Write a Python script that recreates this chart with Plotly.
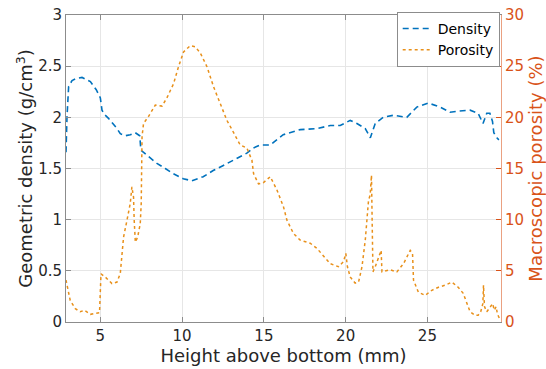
import plotly.graph_objects as go

# Density series (height in mm, g/cm^3)
dens_x = [2.90, 2.96, 3.06, 3.27, 3.53, 3.88, 4.14, 4.39, 4.75, 5.00, 5.10, 5.24, 5.50, 6.02, 6.22,
          6.52, 6.83, 7.13, 7.41, 7.48, 7.85, 8.46, 8.97, 9.46, 10.07, 10.60, 11.29, 11.90, 12.52,
          13.13, 13.96, 14.35, 14.78, 15.39, 16.18, 17.22, 18.24, 19.06, 19.67, 20.28, 20.69,
          21.20, 21.38, 21.51, 21.81, 22.30, 22.91, 23.74, 24.35, 25.05, 25.78, 26.39, 26.88,
          27.61, 28.10, 28.40, 28.63, 28.82, 28.98, 29.06, 29.25, 29.37]
dens_y = [1.66, 2.00, 2.30, 2.36, 2.38, 2.39, 2.37, 2.35, 2.27, 2.19, 2.07, 2.03, 1.99, 1.89, 1.84,
          1.82, 1.83, 1.85, 1.82, 1.68, 1.63, 1.55, 1.50, 1.45, 1.40, 1.38, 1.42, 1.48, 1.53,
          1.58, 1.65, 1.70, 1.73, 1.73, 1.83, 1.88, 1.89, 1.92, 1.92, 1.97, 1.94,
          1.89, 1.83, 1.80, 1.94, 2.00, 2.02, 2.00, 2.10, 2.14, 2.10, 2.05, 2.06,
          2.07, 2.04, 1.94, 2.04, 2.04, 1.96, 1.85, 1.80, 1.78]

# Porosity series (height in mm, %)
por_x = [2.90, 3.16, 3.47, 3.77, 4.02, 4.39, 4.69, 4.95, 5.04, 5.30, 5.71, 6.02, 6.22, 6.42, 6.63,
         6.83, 6.93, 7.03, 7.07, 7.14, 7.28, 7.44, 7.50, 7.55, 7.64, 7.95, 8.36, 8.77, 9.07, 9.48,
         9.78, 10.09, 10.50, 10.80, 11.11, 11.52, 11.92, 12.33, 12.74, 13.05, 13.55, 13.96, 14.27,
         14.37, 14.67, 14.96, 15.39, 15.80, 16.20, 16.41, 16.81, 17.22, 17.83, 18.24, 18.65, 19.06,
         19.56, 19.87, 20.01, 20.11, 20.28, 20.58, 20.79, 21.00, 21.20, 21.30, 21.40, 21.50, 21.58,
         21.62, 21.67, 21.81, 22.01, 22.17, 22.22, 22.72, 23.13, 23.54, 23.95, 24.09, 24.15, 24.45,
         24.86, 25.27, 25.68, 26.09, 26.50, 26.88, 27.19, 27.41, 27.61, 27.92, 28.10, 28.26, 28.39,
         28.43, 28.49, 28.63, 28.83, 28.99, 29.09, 29.20, 29.28, 29.40]
por_y = [4.1, 2.1, 1.3, 1.0, 1.15, 0.75, 0.85, 0.9, 4.7, 4.4, 3.75, 3.9, 4.75, 8.3, 9.95,
         11.6, 13.2, 12.2, 9.95, 7.8, 8.3, 9.6, 11.6, 18.1, 19.4, 20.1, 21.2, 21.1, 21.9, 23.3,
         24.95, 26.4, 27.0, 26.9, 26.3, 24.95, 23.0, 21.4, 19.7, 18.8, 17.3, 17.0, 15.8,
         14.5, 13.5, 13.6, 14.2, 12.9, 11.25, 9.95, 8.65, 8.0, 7.7, 7.2, 6.4, 5.7,
         5.4, 5.9, 6.7, 5.4, 4.4, 3.8, 3.9, 5.4, 8.0, 9.95, 11.9, 12.4, 14.35,
         9.95, 4.9, 5.4, 6.4, 7.0, 4.9, 5.1, 4.9, 5.7, 7.0, 6.7, 4.1, 2.9,
         2.6, 3.1, 3.4, 3.6, 3.9, 3.4, 2.8, 1.8, 1.0, 0.65, 0.65, 1.0, 1.8,
         3.6, 1.5, 1.0, 1.5, 1.8, 1.15, 1.5, 0.8, 0.35]

x_ticks = [5, 10, 15, 20, 25]
y_ticks = [0, 0.5, 1, 1.5, 2, 2.5, 3]
y_tick_text = ["0", "0.5", "1", "1.5", "2", "2.5", "3"]
y2_ticks = [0, 5, 10, 15, 20, 25, 30]

BLUE = "#0072BD"
ORANGE_LINE = "#E8901A"
ORANGE_AX = "#D95319"
GREY = "#8c8c8c"
FONT = "DejaVu Sans"

fig = go.Figure()
fig.add_trace(go.Scatter(x=dens_x, y=dens_y, name="Density", mode="lines",
                         line=dict(color=BLUE, width=1.6, dash="6px,4px")))
fig.add_trace(go.Scatter(x=por_x, y=por_y, name="Porosity", mode="lines", yaxis="y2",
                         line=dict(color=ORANGE_LINE, width=1.5, dash="dot")))

fig.update_layout(
    width=546, height=369,
    margin=dict(l=66, r=45, t=15, b=47),
    paper_bgcolor="white", plot_bgcolor="white",
    font=dict(family=FONT, size=15, color="#262626"),
    showlegend=True,
    legend=dict(x=0.997, y=1.01, xanchor="right", yanchor="top",
                bgcolor="white", bordercolor=GREY, borderwidth=1,
                font=dict(size=14, color="black"),
                itemwidth=30, tracegroupgap=0),
    xaxis=dict(range=[2.9, 29.5], tickvals=x_ticks, ticks="inside", ticklen=5,
               tickcolor=GREY, showline=True, linecolor=GREY, linewidth=1, mirror="ticks",
               showgrid=True, gridcolor="#e6e6e6", zeroline=False, automargin=False,
               ticklabeloverflow="allow",
               title=dict(text="Height above bottom (mm)", standoff=4),
               tickfont=dict(size=15, color="#262626")),
    yaxis=dict(range=[0, 3], tickvals=y_ticks, ticktext=y_tick_text, ticks="inside", ticklen=5,
               tickcolor=GREY, showline=True, linecolor=GREY, linewidth=1,
               showgrid=True, gridcolor="#e6e6e6", zeroline=False, automargin=False,
               ticklabeloverflow="allow",
               title=dict(text="Geometric density (g/cm<sup>3</sup>)", standoff=0),
               tickfont=dict(size=15, color="#262626")),
    yaxis2=dict(range=[0, 30], tickvals=y2_ticks, ticks="inside", ticklen=5,
                tickcolor=ORANGE_AX, overlaying="y", side="right",
                showline=True, linecolor="rgba(217,83,25,0.55)", linewidth=1,
                showgrid=False, zeroline=False, automargin=False,
                ticklabeloverflow="allow",
                title=dict(text="Macroscopic porosity (%)", standoff=10,
                           font=dict(color=ORANGE_AX)),
                tickfont=dict(size=15, color=ORANGE_AX)),
)

fig.write_html("out.html", config={"displayModeBar": False},
               post_script="document.body.style.margin='0px';")
